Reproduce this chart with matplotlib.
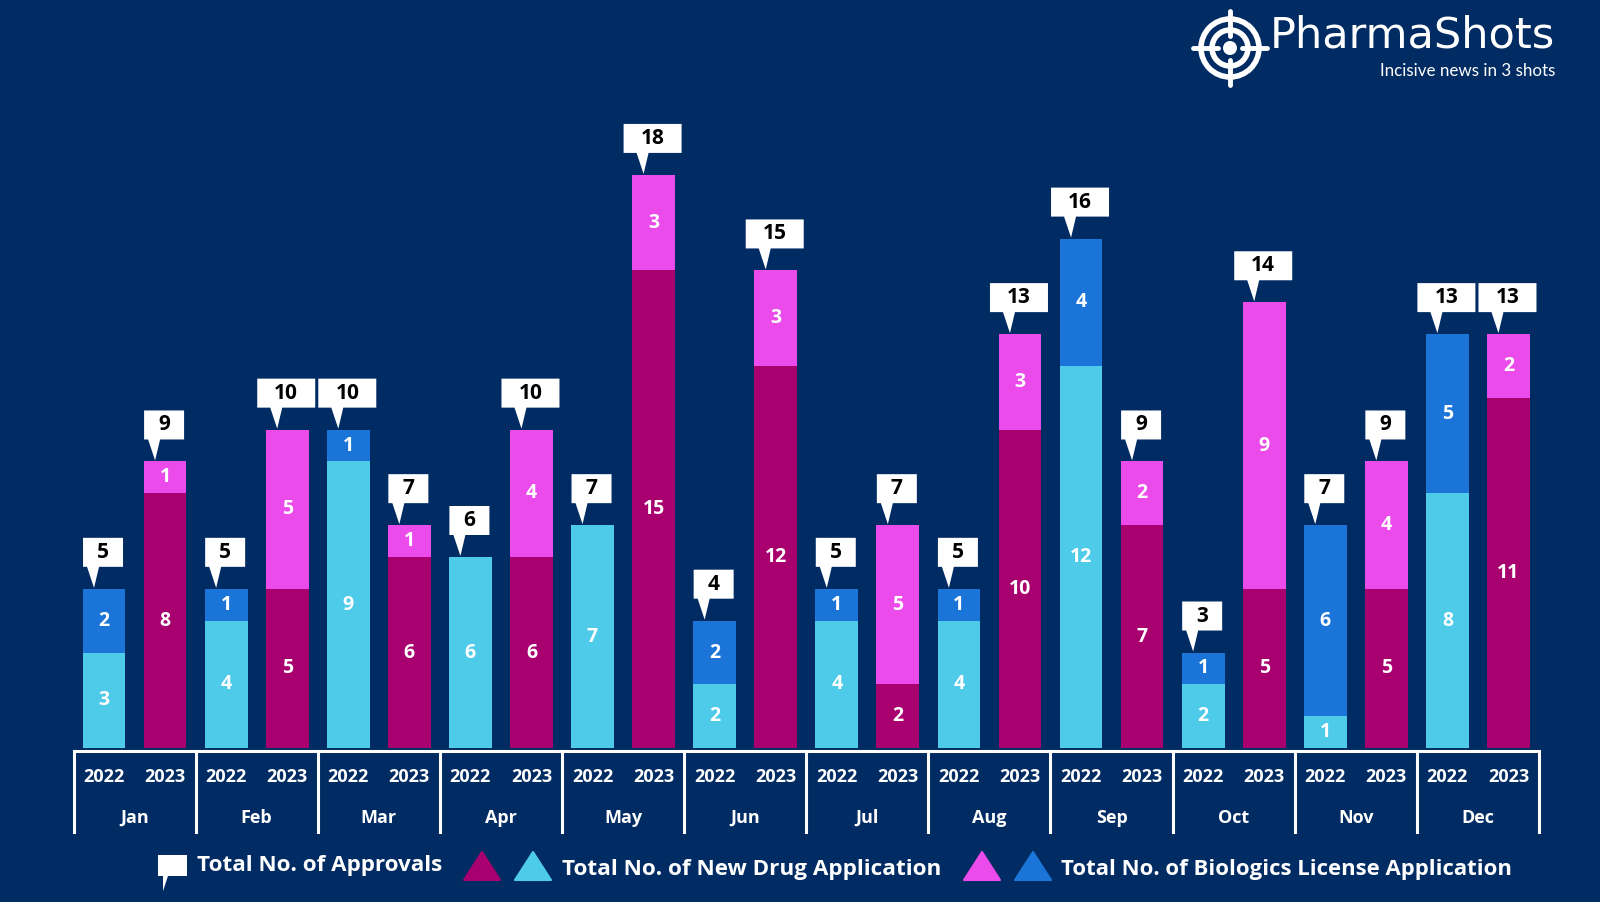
import matplotlib
matplotlib.use("Agg")
import numpy as np
from matplotlib import pyplot as plt
from matplotlib import font_manager as fm
from matplotlib.patches import Polygon, Circle

months = ['Jan', 'Feb', 'Mar', 'Apr', 'May', 'Jun', 'Jul', 'Aug', 'Sep', 'Oct', 'Nov', 'Dec']
years = ['2022', '2023']

nda_2022 = [3, 4, 9, 6, 7, 2, 4, 4, 12, 2, 1, 8]
bla_2022 = [2, 1, 1, 0, 0, 2, 1, 1, 4, 1, 6, 5]
nda_2023 = [8, 5, 6, 6, 15, 12, 2, 10, 7, 5, 5, 11]
bla_2023 = [1, 5, 1, 4, 3, 3, 5, 3, 2, 9, 4, 2]

legend_labels = ['Total No. of Approvals', 'Total No. of New Drug Application',
                 'Total No. of Biologics License Application']

BG = '#012B63'
C_NDA22 = '#4FCBEA'
C_BLA22 = '#1B74D8'
C_NDA23 = '#A8006F'
C_BLA23 = '#EB4BEB'

# pick a family that really has a bold face
font = 'DejaVu Sans'
for cand in ['Open Sans', 'Noto Sans', 'Lato', 'Roboto', 'Liberation Sans']:
    try:
        f = fm.findfont(fm.FontProperties(family=cand, weight='bold'), fallback_to_default=False)
    except Exception:
        continue
    if 'bold' in f.lower():
        font = cand
        break

W, H = 1600, 902
fig = plt.figure(figsize=(16, 9.02), dpi=100, facecolor=BG)

ymin, ymax = -2.7, 21
ax = fig.add_axes([73.5 / W, (H - 834) / H, 1465.5 / W, (834 - 79.4) / H])
ax.set_facecolor(BG)
ax.set_xlim(-0.5, 23.5)
ax.set_ylim(ymin, ymax)
ax.axis('off')

px_x = 1465.5 / 24.0
px_y = (834 - 79.4) / (ymax - ymin)

bw = 0.7

for i in range(12):
    groups = [(2 * i, nda_2022[i], bla_2022[i], C_NDA22, C_BLA22),
              (2 * i + 1, nda_2023[i], bla_2023[i], C_NDA23, C_BLA23)]
    for x, nda, bla, c1, c2 in groups:
        ax.bar(x, nda, width=bw, color=c1, linewidth=0)
        ax.bar(x, bla, bottom=nda, width=bw, color=c2, linewidth=0)
        for base, val in [(0, nda), (nda, bla)]:
            if val > 0:
                ax.text(x, base + val / 2, str(val), ha='center', va='center',
                        color='white', fontsize=14, fontweight='bold', family=font)
        # callout with the total
        total = nda + bla
        bwpx = 40 if total < 10 else 58
        cx = x - 1 / px_x
        half = bwpx / 2 / px_x
        yb = total + 22 / px_y
        yt = yb + 29 / px_y
        tip_x = x - 10 / px_x
        pts = [(cx - half, yb), (tip_x - 7 / px_x, yb), (tip_x, total + 1 / px_y),
               (tip_x + 5 / px_x, yb), (cx + half, yb), (cx + half, yt), (cx - half, yt)]
        ax.add_patch(Polygon(pts, closed=True, facecolor='white', edgecolor='none',
                             clip_on=False, zorder=4))
        ax.text(cx, (yb + yt) / 2, str(total), ha='center', va='center', color='black',
                fontsize=15, fontweight='bold', family=font, zorder=5)
        ax.text(x, -0.92, years[x % 2], ha='center', va='center', color='white',
                fontsize=13, fontweight='bold', family=font)
    ax.text(2 * i + 0.5, -2.2, months[i], ha='center', va='center', color='white',
            fontsize=13, fontweight='bold', family=font)

ax.plot([-0.5, 23.5], [-0.08, -0.08], color='white', lw=2.2, clip_on=False, solid_capstyle='butt')
for k in range(13):
    ax.plot([2 * k - 0.5, 2 * k - 0.5], [-0.08, -2.64], color='white', lw=2.2, clip_on=False)


def fpos(x, y):
    return (x / W, 1 - y / H)


# legend
leg = [fpos(158, 855), fpos(187, 855), fpos(187, 876), fpos(168, 876), fpos(163, 891),
       fpos(163, 876), fpos(158, 876)]
fig.patches.append(Polygon(leg, closed=True, facecolor='white', edgecolor='none',
                           transform=fig.transFigure))
for x0, col in [(464, C_NDA23), (515, C_NDA22), (964, C_BLA23), (1015, C_BLA22)]:
    tri = [fpos(x0, 880), fpos(x0 + 36, 880), fpos(x0 + 18, 852)]
    fig.patches.append(Polygon(tri, closed=True, facecolor=col, edgecolor=col, lw=1.5,
                               joinstyle='round', transform=fig.transFigure))

leg_texts = []
for lab, (lx, ly, wpx) in zip(legend_labels, [(197, 866, 245), (562, 870, 379), (1061, 870, 452)]):
    t = fig.text(*fpos(lx, ly), lab, ha='left', va='center', color='white',
                 fontsize=16, fontweight='bold', family=font)
    leg_texts.append((t, wpx))

# logo
lax = fig.add_axes([1188 / W, 1 - 90 / H, 84 / W, 84 / H])
lax.set_xlim(-42, 42)
lax.set_ylim(-42, 42)
lax.set_aspect('equal')
lax.axis('off')
lax.add_patch(Circle((0, 0), 29, fill=False, ec='white', lw=4))
lax.add_patch(Circle((0, 0), 18, fill=False, ec='white', lw=4))
lax.add_patch(Circle((0, 0), 7, fc='white', ec='none'))
for a, b in [((-37, 0), (-12, 0)), ((12, 0), (37, 0)), ((0, -37), (0, -12)), ((0, 12), (0, 37))]:
    lax.plot([a[0], b[0]], [a[1], b[1]], color='white', lw=3.5, solid_capstyle='round')
logo = fig.text(*fpos(1270, 36), 'PharmaShots', ha='left', va='center', color='white',
                fontsize=28, family='DejaVu Sans')
tag = fig.text(*fpos(1555, 71), 'Incisive news in 3 shots', ha='right', va='center',
               color='white', fontsize=13, family='Lato')

# shrink / grow the free texts so their widths match the layout
fig.canvas.draw()
r = fig.canvas.get_renderer()
for t, wpx in leg_texts + [(logo, 285), (tag, 176)]:
    w = t.get_window_extent(r).width
    t.set_fontsize(t.get_fontsize() * wpx / w)

fig.savefig('out.png', dpi=100, facecolor=BG)
